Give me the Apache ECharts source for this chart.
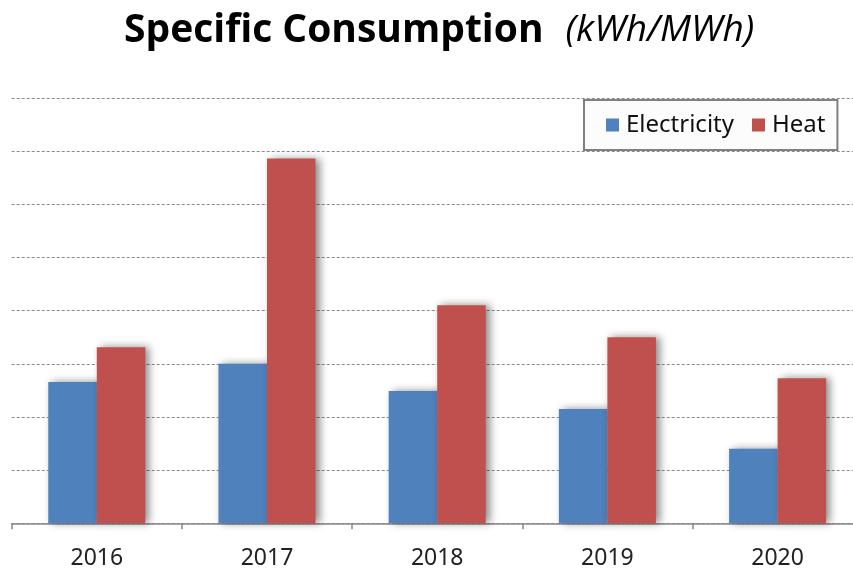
<!DOCTYPE html>
<html>
<head>
<meta charset="utf-8">
<script src="https://cdn.jsdelivr.net/npm/echarts@6/dist/echarts.min.js"></script>
<style>
  html, body { margin: 0; padding: 0; background: #fff; }
  #chart { width: 853px; height: 572px; }
</style>
</head>
<body>
<div id="chart"></div>
<script>
// values, in gridline units (no axis labels shown)
const years = ['2016', '2017', '2018', '2019', '2020']
const electricity = [2.66, 3.0, 2.49, 2.15, 1.4]
const heat = [3.31, 6.86, 4.1, 3.5, 2.73]

const chart = echarts.init(document.getElementById('chart'))

const barShadow = {
  shadowColor: 'rgba(0, 0, 0, 0.45)',
  shadowBlur: 8,
  shadowOffsetX: 4,
  shadowOffsetY: 0
}

const option = {
  backgroundColor: '#fff',
  animation: false,
  title: {
    text: '{b|Specific Consumption}{i|(kWh/MWh)}',
    left: 119,
    top: 6,
    textStyle: {
      rich: {
        b: {
          fontFamily: 'Open Sans',
          fontWeight: 'bold',
          fontSize: 39,
          color: '#000'
        },
        i: {
          fontFamily: 'Open Sans',
          fontStyle: 'italic',
          fontWeight: 'normal',
          fontSize: 37,
          color: '#000',
          padding: [0, 0, 0, 22]
        }
      }
    }
  },
  legend: {
    data: ['Electricity', 'Heat'],
    left: 584,
    top: 100,
    padding: [13, 12, 13, 22],
    itemGap: 18,
    itemWidth: 13,
    itemHeight: 13,
    icon: 'rect',
    borderColor: '#808080',
    borderWidth: 2,
    backgroundColor: '#fcfcfc',
    textStyle: {
      fontFamily: 'Noto Sans',
      fontSize: 24,
      color: '#111',
      padding: [0, 0, 0, 2]
    }
  },
  grid: {
    left: 11.7,
    width: 851,
    top: 98,
    bottom: 48.7,
    outerBoundsMode: 'none',
    containLabel: false
  },
  xAxis: {
    type: 'category',
    data: years,
    axisLine: { lineStyle: { color: '#888', width: 1.5 } },
    axisTick: { show: true, length: 6, lineStyle: { color: '#888', width: 1.5 } },
    axisLabel: {
      fontFamily: 'Noto Sans',
      fontSize: 23,
      color: '#222',
      margin: 24
    }
  },
  yAxis: {
    type: 'value',
    min: 0,
    max: 8,
    interval: 1,
    axisLine: { show: false },
    axisTick: { show: false },
    axisLabel: { show: false },
    splitLine: {
      lineStyle: { color: '#8a8a8a', type: [3, 2], width: 1 }
    }
  },
  series: [
    {
      name: 'Electricity',
      type: 'bar',
      data: electricity,
      barWidth: '28.5%',
      barGap: '0%',
      itemStyle: Object.assign({ color: '#4f81bd' }, barShadow)
    },
    {
      name: 'Heat',
      type: 'bar',
      data: heat,
      barWidth: '28.5%',
      itemStyle: Object.assign({ color: '#c0504d' }, barShadow)
    }
  ]
}

chart.setOption(option)
</script>
</body>
</html>
